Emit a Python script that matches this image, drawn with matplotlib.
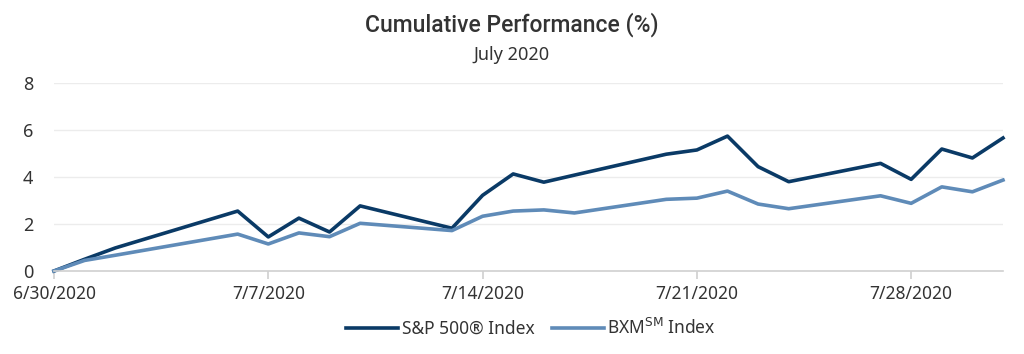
import numpy as np
import matplotlib
matplotlib.use('Agg')
import matplotlib.pyplot as plt
import matplotlib.dates as mdates
from datetime import datetime

plt.rcParams['font.family'] = ['Noto Sans', 'DejaVu Sans']

# trading days in July 2020
dates = ["2020-06-30", "2020-07-01", "2020-07-02", "2020-07-06", "2020-07-07",
         "2020-07-08", "2020-07-09", "2020-07-10", "2020-07-13", "2020-07-14",
         "2020-07-15", "2020-07-16", "2020-07-17", "2020-07-20", "2020-07-21",
         "2020-07-22", "2020-07-23", "2020-07-24", "2020-07-27", "2020-07-28",
         "2020-07-29", "2020-07-30", "2020-07-31"]
spx = [0.0, 0.50, 0.98, 2.55, 1.45, 2.25, 1.66, 2.77, 1.82, 3.22,
       4.13, 3.78, 4.08, 4.97, 5.15, 5.74, 4.44, 3.80, 4.58, 3.90,
       5.19, 4.81, 5.66]
bxm = [0.0, 0.45, 0.67, 1.57, 1.15, 1.62, 1.46, 2.03, 1.72, 2.33,
       2.55, 2.60, 2.47, 3.05, 3.10, 3.40, 2.85, 2.65, 3.20, 2.88,
       3.58, 3.37, 3.87]
tick_dates = ["2020-06-30", "2020-07-07", "2020-07-14", "2020-07-21", "2020-07-28"]
tick_labels = ["6/30/2020", "7/7/2020", "7/14/2020", "7/21/2020", "7/28/2020"]

x = [datetime.strptime(d, "%Y-%m-%d") for d in dates]
xt = [datetime.strptime(d, "%Y-%m-%d") for d in tick_dates]

fig = plt.figure(figsize=(10.24, 3.54), dpi=100)
ax = fig.add_axes([54/1024, 1-271/354, (1003-54)/1024, (271-83)/354])

ax.plot(x, spx, color='#0a3a66', lw=2.6, label='S&P 500® Index', clip_on=False)
ax.plot(x, bxm, color='#5f8bb8', lw=2.6, label='BXM$^{\\mathrm{SM}}$ Index', clip_on=False)

ax.set_xlim(x[0], x[-1])
ax.set_ylim(0, 8)
ax.set_yticks([0, 2, 4, 6, 8])
ax.set_xticks(xt)
ax.set_xticklabels(tick_labels)
ax.grid(axis='y', color='#ececec', lw=1)
ax.set_axisbelow(True)
for s in ['top', 'right', 'left']:
    ax.spines[s].set_visible(False)
ax.spines['bottom'].set_color('#d0d0d0')
ax.spines['bottom'].set_linewidth(1.2)
ax.tick_params(axis='x', colors='#d0d0d0', length=6, width=1.2, labelcolor='#333333',
               labelsize=12.5, pad=4)
ax.tick_params(axis='y', length=0, labelcolor='#333333', labelsize=13, pad=15)

fig.text(0.5, 1-25/354, 'Cumulative Performance (%)', ha='center', va='center',
         fontsize=16.5, fontweight='medium', family=['Roboto', 'DejaVu Sans'],
         color='#333333')
fig.text(0.5, 1-55/354, 'July 2020', ha='center', va='center',
         fontsize=13, color='#333333')

fig.legend(loc='center', bbox_to_anchor=(531/1024, 1-328/354), ncol=2, frameon=False,
           fontsize=12.5, handlelength=3, handletextpad=0.2, columnspacing=1.0,
           labelcolor='#333333')

fig.savefig('out.png', dpi=100)
